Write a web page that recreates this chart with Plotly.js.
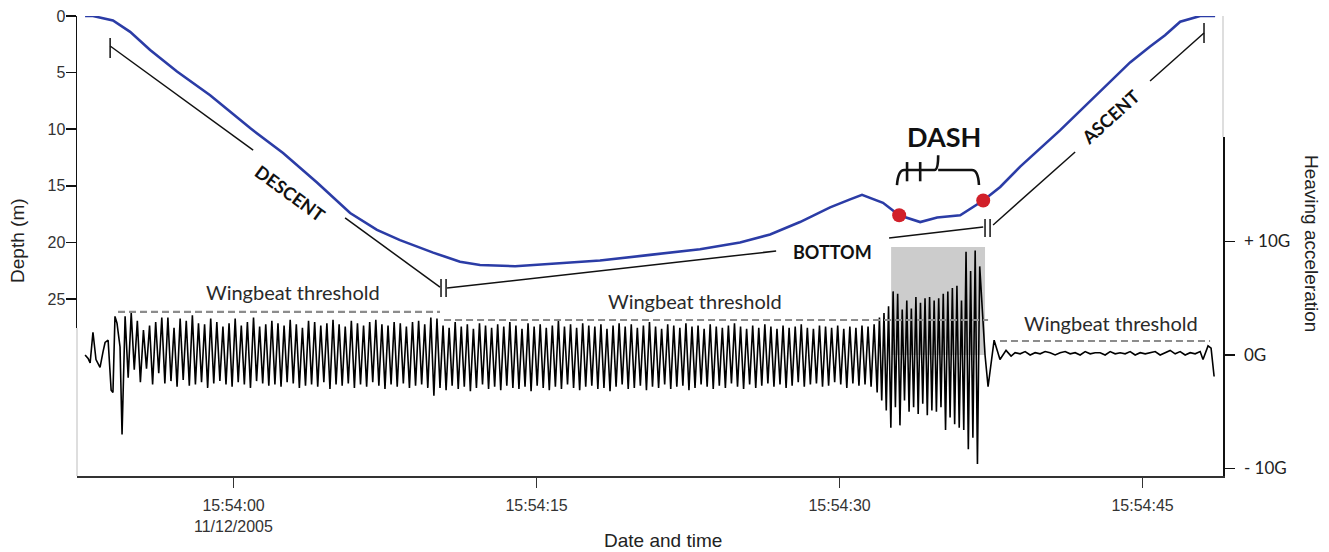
<!DOCTYPE html>
<html><head><meta charset="utf-8">
<script src="https://cdn.plot.ly/plotly-3.0.1.min.js"></script>
<style>html,body{margin:0;padding:0;background:#fff}</style>
</head><body>
<div id="chart" style="width:1329px;height:552px"></div>
<script>
// ---- DATA (time = seconds after 15:54:00 on 11/12/2005) ----
const depthTimes = [-7.35,-6.96,-5.97,-5.12,-4.13,-2.80,-1.16,0.82,2.45,4.13,5.77,7.10,8.24,9.88,11.21,12.20,13.94,15.67,18.14,20.62,23.09,25.07,26.56,28.04,29.53,30.52,31.11,32.15,32.95,33.99,34.83,35.97,37.11,37.95,38.94,40.91,42.90,44.38,45.37,46.11,46.86,47.85,48.59];
const depthValues = [0.0,0.0,0.4,1.4,3.0,4.9,7.0,9.9,12.1,14.7,17.4,18.9,19.8,20.9,21.7,22.0,22.1,21.9,21.6,21.1,20.6,20.0,19.3,18.2,16.9,16.2,15.8,16.5,17.6,18.2,17.8,17.6,16.3,15.1,13.3,10.1,6.7,4.1,2.7,1.7,0.5,0.0,0.0];

const dashPointTimes = [32.95, 37.11];
const dashPointDepths = [17.6, 16.3];

// heaving acceleration (G)
const preFlightTimes = [-7.35,-7.20,-7.10,-6.96,-6.81,-6.61,-6.46,-6.36,-6.21,-6.06,-5.97,-5.87,-5.77,-5.62];
const preFlightG = [0.0,-0.3,-0.7,2.0,-0.4,-1.1,0.3,1.1,1.3,-3.1,-3.3,3.4,2.8,0.7];

const descentSpan = [-5.52, 10.22];
const descentTroughs = [-7.0,-2.0,-1.3,-2.4,-1.2,-2.6,-1.6,-2.5,-2.3,-2.8,
 -2.2,-2.7,-2.6,-2.4,-2.9,-2.5,-2.3,-2.6,-2.8,-2.4,
 -2.6,-2.9,-2.3,-2.5,-2.7,-2.6,-2.8,-2.4,-2.5,-2.9,
 -2.7,-2.6,-2.8,-2.4,-3.0,-2.6,-2.7,-2.5,-2.9,-2.6,
 -2.8,-2.4,-2.7,-3.0,-2.6,-2.8,-2.5,-2.9,-2.7,-2.6,
 -2.9,-3.6];
const descentPeaks = [3.4,3.7,3.0,2.2,2.6,2.9,3.3,3.3,2.4,3.2,
 3.0,3.5,2.8,2.7,3.2,2.9,2.5,2.8,3.2,2.6,
 2.9,3.3,2.5,2.7,3.0,2.8,2.6,3.1,2.7,2.4,
 3.0,2.9,2.6,2.8,3.1,2.7,2.5,3.0,2.8,2.6,
 2.9,3.1,2.7,2.6,2.9,2.8,2.5,2.9,3.0,2.7,
 3.3,3.2];

const bottomSpan = [10.22, 31.86];
const bottomTroughs = [-2.9,-3.1,-2.7,-3.0,-2.8,-3.2,-2.9,-2.6,-3.0,-2.8,
 -3.1,-2.7,-2.9,-3.0,-2.8,-3.2,-2.7,-2.9,-3.1,-2.8,
 -3.0,-2.6,-2.9,-3.1,-2.8,-2.7,-3.0,-2.9,-3.2,-2.8,
 -2.6,-3.0,-2.9,-2.7,-3.1,-2.8,-2.9,-2.6,-3.0,-2.8,
 -2.7,-3.1,-2.9,-2.6,-2.8,-3.0,-2.7,-2.9,-2.5,-2.8,
 -3.0,-2.6,-2.9,-2.7,-2.5,-2.8,-2.6,-2.9,-2.7,-2.4,
 -2.8,-2.6,-2.5,-2.8,-2.7,-2.4,-2.6,-2.9,-2.5,-2.7,
 -2.6,-2.8];
const bottomPeaks = [2.6,2.4,2.9,2.5,2.7,2.3,2.8,2.6,2.4,2.7,
 2.5,2.9,2.6,2.3,2.8,2.5,2.7,2.4,2.6,3.0,
 2.5,2.7,2.4,2.8,2.6,2.5,2.7,2.3,2.6,2.8,
 2.5,2.7,2.4,2.6,2.9,2.5,2.3,2.7,2.6,2.4,
 2.8,2.5,2.6,2.3,2.7,2.5,2.4,2.6,2.8,2.5,
 2.3,2.6,2.4,2.7,2.5,2.3,2.6,2.4,2.5,2.7,
 2.4,2.3,2.6,2.5,2.4,2.6,2.3,2.5,2.4,2.6,
 2.5,2.7];

const dashSpan = [31.86, 37.05];
const dashTroughs = [-3.3,-4.0,-4.9,-6.4,-4.6,-6.2,-4.0,-5.0,-4.6,-5.2,-4.3,-5.3,-4.9,-5.0,-4.6,-6.6,-5.5,-6.1,-6.4,-6.6,-8.3,-7.3,-9.6];
const dashPeaks = [3.3,3.7,4.3,5.6,5.4,4.0,4.8,4.1,5.1,4.6,5.0,5.1,4.8,5.0,5.4,5.6,5.9,6.1,4.8,9.1,7.4,9.2,7.8];

const postHeadTimes = [37.20,37.35,37.65,37.94,38.24,38.49];
const postHeadG = [0.0,-2.8,1.3,-0.4,0.4,-0.1];
const postNoiseSpan = [38.69, 47.85];
const postNoiseG = [0.2,0.1,0.3,0.0,0.2,0.1,0.3,0.2,0.0,0.2,0.3,0.1,0.2,0.0,0.3,0.1,0.2,0.2,0.0,0.3,0.1,0.2,0.1,0.3,0.0,0.2,0.1,0.2,0.3,0.0,0.2,0.4,0.1,0.3,0.0,0.2,0.1,0.3];
const postTailTimes = [47.99,48.24,48.39,48.54];
const postTailG = [-0.4,0.8,0.6,-1.9];

// wingbeat thresholds: [start, end] and level (G)
const thresholdStarts = [-5.72, 10.42, 37.94];
const thresholdEnds = [10.22, 37.35, 48.34];
const thresholdLevels = [3.79, 3.08, 1.23];
const thresholdLabel = 'Wingbeat threshold';

// axes
const xTickSeconds = [0, 15, 30, 45];
const xTickText = ['15:54:00', '15:54:15', '15:54:30', '15:54:45'];
const xDateLabel = '11/12/2005';
const depthTicks = [0, 5, 10, 15, 20, 25];
const accTicks = [10, 0, -10];
const accTickText = ['+ 10G', '0G', '- 10G'];

// ---- helpers ----
function T(s) {
  const ms = Date.UTC(2005, 10, 12) + Math.round((15 * 3600 + 54 * 60 + s) * 1000);
  return new Date(ms).toISOString().replace('T', ' ').replace('Z', '');
}
function TP(s) { return T(s).replace(' ', '_'); }

// assemble acceleration trace
const sigT = [], sigG = [];
function addPoints(ts, gs) { for (let i = 0; i < ts.length; i++) { sigT.push(ts[i]); sigG.push(gs[i]); } }
function addFlaps(span, troughs, peaks) {
  const n = Math.min(troughs.length, peaks.length);
  const h = (span[1] - span[0]) / (2 * n);
  for (let i = 0; i < n; i++) {
    sigT.push(span[0] + 2 * i * h); sigG.push(troughs[i]);
    sigT.push(span[0] + (2 * i + 1) * h); sigG.push(peaks[i]);
  }
}
function addUniform(span, vals) {
  const h = (span[1] - span[0]) / (vals.length - 1);
  vals.forEach((v, i) => { sigT.push(span[0] + i * h); sigG.push(v); });
}
addPoints(preFlightTimes, preFlightG);
addFlaps(descentSpan, descentTroughs, descentPeaks);
addFlaps(bottomSpan, bottomTroughs, bottomPeaks);
addFlaps(dashSpan, dashTroughs, dashPeaks);
addPoints(postHeadTimes, postHeadG);
addUniform(postNoiseSpan, postNoiseG);
addPoints(postTailTimes, postTailG);

const traces = [];
traces.push({type:'scatter', mode:'lines', x: sigT.map(T), y: sigG, xaxis:'x', yaxis:'y2',
  line:{color:'#000', width:1.6}, hoverinfo:'skip'});
for (let i = 0; i < thresholdLevels.length; i++) {
  traces.push({type:'scatter', mode:'lines', x:[T(thresholdStarts[i]), T(thresholdEnds[i])],
    y:[thresholdLevels[i], thresholdLevels[i]], xaxis:'x', yaxis:'y2',
    line:{color:'#8c8c8c', width:2.2, dash:'7px,4px'}, hoverinfo:'skip'});
}
traces.push({type:'scatter', mode:'lines', x: depthTimes.map(T), y: depthValues, xaxis:'x', yaxis:'y',
  line:{color:'#2b3ca6', width:2.6}, hoverinfo:'skip'});
traces.push({type:'scatter', mode:'markers', x: dashPointTimes.map(T), y: dashPointDepths, xaxis:'x', yaxis:'y',
  marker:{color:'#d1202a', size:14}, hoverinfo:'skip'});

// annotation line segments in (seconds, depth)
const segs = [
  [-6.11,1.94,-6.11,3.71],
  [-6.11,2.65,0.97,11.84],
  [5.52,17.84,10.22,23.94],
  [10.27,23.23,10.27,24.82],[10.52,23.23,10.52,24.82],
  [10.57,24.03,26.86,20.76],
  [32.45,19.61,37.11,18.64],
  [37.20,17.93,37.20,19.52],[37.45,17.93,37.45,19.52],
  [37.60,18.46,41.66,12.01],
  [45.37,5.74,48.04,1.50],
  [48.04,0.62,48.04,2.39]
];
const shapes = segs.map(s => ({type:'line', xref:'x', yref:'y', x0:T(s[0]), y0:s[1], x1:T(s[2]), y1:s[3],
  line:{color:'#111', width:1.5}}));
// gray dash box
shapes.push({type:'rect', xref:'x', yref:'y2', x0:T(32.55), x1:T(37.20), y0:0, y1:9.5,
  fillcolor:'#cccccc', line:{width:0}, layer:'below'});
// DASH brace
const braceD = 'M' + TP(32.84) + ',14.93 Q' + TP(32.90) + ',13.6 ' + TP(33.20) + ',13.6 L' + TP(34.70) + ',13.6 Q' + TP(34.88) + ',13.6 ' + TP(34.88) + ',12.3 M' + TP(34.88) + ',13.6 L' + TP(36.55) + ',13.6 Q' + TP(36.86) + ',13.6 ' + TP(36.90) + ',14.93';
shapes.push({type:'path', xref:'x', yref:'y', path: braceD, line:{color:'#111', width:2.6}});
shapes.push({type:'line', xref:'x', yref:'y', x0:T(33.34), x1:T(33.34), y0:12.9, y1:14.6, line:{color:'#111', width:2.6}});
shapes.push({type:'line', xref:'x', yref:'y', x0:T(33.99), x1:T(33.99), y0:12.9, y1:14.6, line:{color:'#111', width:2.6}});
// thin gray frame continuations
shapes.push({type:'line', xref:'paper', yref:'paper', x0:0, x1:0, y0:0, y1:0.3217, line:{color:'#bdbdbd', width:1}});
shapes.push({type:'line', xref:'paper', yref:'paper', x0:1, x1:1, y0:0.737, y1:1, line:{color:'#bdbdbd', width:1}});

const boldFont = {family:'Lato, Open Sans, sans-serif', size:18, color:'#111'};
const thrFont = {family:'Lato, sans-serif', size:20, color:'#2a2a2a'};
const titleFont = {family:'Liberation Sans, Arial, sans-serif', size:19, color:'#222'};
const annotations = [
  {xref:'x', yref:'y', x:T(2.80), y:15.6, text:'<b>DESCENT</b>', textangle:36, showarrow:false, font:boldFont},
  {xref:'x', yref:'y', x:T(29.63), y:20.85, text:'<b>BOTTOM</b>', showarrow:false, font:boldFont},
  {xref:'x', yref:'y', x:T(43.39), y:8.92, text:'<b>ASCENT</b>', textangle:-42, showarrow:false, font:boldFont},
  {xref:'x', yref:'y', x:T(35.15), y:10.6, text:'<b>DASH</b>', showarrow:false, font:{family:'Lato, Open Sans, sans-serif', size:27, color:'#111'}},
  {xref:'x', yref:'y2', x:T(2.95), y:5.55, text:thresholdLabel, showarrow:false, font:thrFont},
  {xref:'x', yref:'y2', x:T(22.85), y:4.76, text:thresholdLabel, showarrow:false, font:thrFont},
  {xref:'x', yref:'y2', x:T(43.44), y:2.82, text:thresholdLabel, showarrow:false, font:thrFont},
  {xref:'x', yref:'paper', x:T(xTickSeconds[0]), y:-0.11, text:xDateLabel, showarrow:false, xanchor:'center', yanchor:'middle', font:{family:'Liberation Sans, Arial, sans-serif', size:16, color:'#333'}},
  {xref:'paper', yref:'paper', x:-0.0515, y:0.511, text:'Depth (m)', textangle:-90, showarrow:false, xanchor:'center', yanchor:'middle', font:titleFont},
  {xref:'paper', yref:'paper', x:1.0777, y:0.5065, text:'Heaving acceleration', textangle:90, showarrow:false, xanchor:'center', yanchor:'middle', font:titleFont},
  {xref:'paper', yref:'paper', x:0.5113, y:-0.1413, text:'Date and time', showarrow:false, xanchor:'center', yanchor:'middle', font:titleFont}
];

const layout = {
  width:1329, height:552,
  margin:{l:77, r:106, t:16, b:76},
  paper_bgcolor:'#fff', plot_bgcolor:'rgba(0,0,0,0)',
  showlegend:false,
  font:{family:'Liberation Sans, Arial, sans-serif', size:16, color:'#333'},
  xaxis:{type:'date', range:[T(-7.75), T(48.98)], anchor:'y2', showgrid:false, zeroline:false,
    showline:true, linecolor:'#333', linewidth:1.5, ticks:'outside', ticklen:10, tickwidth:1.5, tickcolor:'#333',
    tickmode:'array', tickvals:xTickSeconds.map(T), ticktext:xTickText, ticklabelstandoff:4,
    tickfont:{family:'Liberation Sans, Arial, sans-serif', size:16, color:'#333'}},
  yaxis:{domain:[0.3217, 1], range:[27.56, 0], anchor:'x', showgrid:false, zeroline:false,
    showline:true, linecolor:'#111', linewidth:1.5, ticks:'outside', ticklen:10, tickwidth:1.5, tickcolor:'#111',
    tickmode:'array', tickvals:depthTicks, ticklabelstandoff:-3,
    tickfont:{family:'Liberation Sans, Arial, sans-serif', size:16, color:'#333'}},
  yaxis2:{domain:[0, 0.737], range:[-10.66, 19.2], anchor:'x', side:'right', showgrid:false, zeroline:false,
    showline:true, linecolor:'#111', linewidth:1.5, ticks:'outside', ticklen:10, tickwidth:1.5, tickcolor:'#111',
    tickmode:'array', tickvals:accTicks, ticktext:accTickText, ticklabelstandoff:6,
    tickfont:{size:17, color:'#222', family:'Lato, sans-serif'}},
  shapes: shapes,
  annotations: annotations
};

Plotly.newPlot('chart', traces, layout, {staticPlot:true, displayModeBar:false});
</script>
</body></html>
